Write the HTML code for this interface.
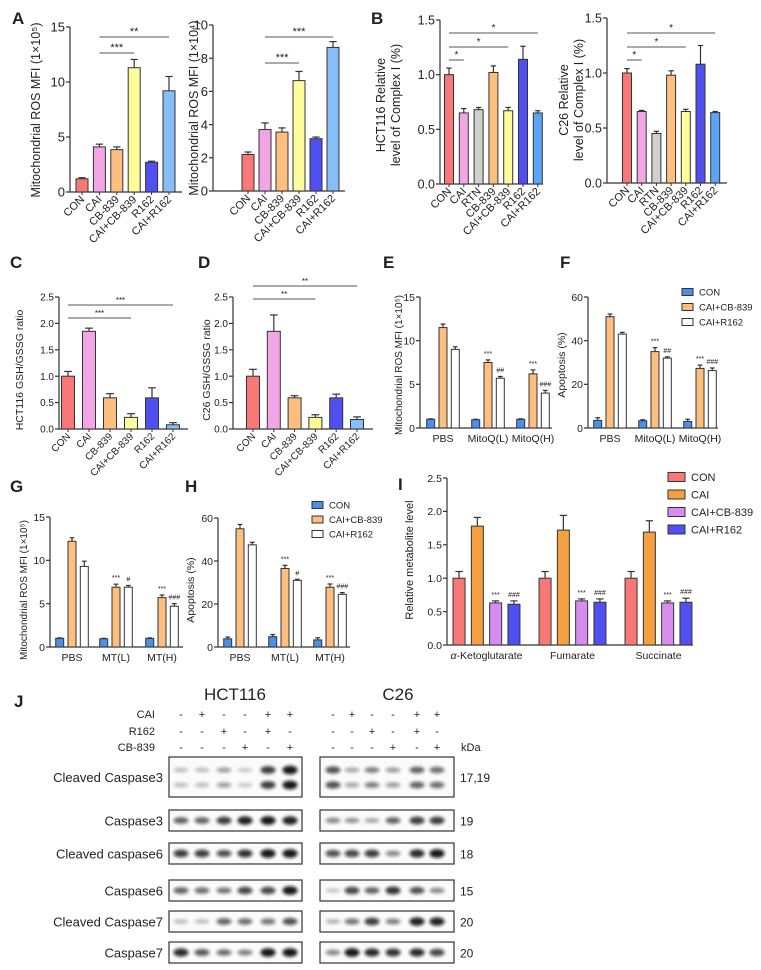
<!DOCTYPE html>
<html><head><meta charset="utf-8"><style>
body{margin:0;background:#fff}
svg text{font-family:"Liberation Sans",Arial,sans-serif;fill:#222}
</style></head><body>
<svg id="fig" width="761" height="965" viewBox="0 0 761 965" xmlns="http://www.w3.org/2000/svg">
<defs><filter id="blur" x="-50%" y="-100%" width="200%" height="300%"><feGaussianBlur stdDeviation="1.5"/></filter></defs>
<g font-weight="bold" font-size="17">
<text x="12" y="24">A</text>
<text x="371" y="24">B</text>
<text x="10" y="268">C</text>
<text x="198" y="268">D</text>
<text x="383" y="268">E</text>
<text x="560" y="268">F</text>
<text x="10" y="492">G</text>
<text x="185" y="492">H</text>
<text x="398" y="490">I</text>
<text x="14" y="707">J</text>
</g>
<g id="charts"></g>
<g id="blots"></g>
</svg>
<script>
// ---- data ----
const catsA = ["CON","CAI","CB-839","CAI+CB-839","R162","CAI+R162"];
const valsA1 = [1.2,4.1,3.85,11.3,2.7,9.2];
const errA1 = [0.1,0.25,0.25,0.75,0.1,1.3];
const valsA2 = [2.2,3.7,3.55,6.65,3.15,8.65];
const errA2 = [0.15,0.4,0.25,0.55,0.1,0.35];
const catsB = ["CON","CAI","RTN","CB-839","CAI+CB-839","R162","CAI+R162"];
const valsB1 = [1.0,0.65,0.68,1.02,0.67,1.14,0.65];
const errB1 = [0.06,0.04,0.02,0.06,0.03,0.12,0.02];
const valsB2 = [1.0,0.65,0.45,0.98,0.65,1.08,0.64];
const errB2 = [0.04,0.01,0.02,0.04,0.02,0.17,0.01];
const valsC = [1.0,1.85,0.59,0.22,0.59,0.08];
const errC = [0.09,0.06,0.08,0.07,0.19,0.04];
const valsD = [1.0,1.85,0.59,0.22,0.59,0.18];
const errD = [0.13,0.31,0.04,0.05,0.07,0.05];
const groupsE = ["PBS","MitoQ(L)","MitoQ(H)"];
const groupsG = ["PBS","MT(L)","MT(H)"];
const seriesEF = ["CON","CAI+CB-839","CAI+R162"];
const valsE = [[1.0,0.95,1.0],[11.5,7.5,6.2],[9.0,5.7,4.0]];
const errE = [[0.05,0.05,0.05],[0.4,0.3,0.45],[0.3,0.2,0.3]];
const valsF = [[3.5,3.3,3.0],[51,35,27.3],[43,32,26.3]];
const errF = [[1.2,0.5,1.0],[1.2,1.8,1.5],[0.8,0.6,1.2]];
const valsG = [[1.0,0.95,1.0],[12.2,6.9,5.7],[9.3,6.9,4.7]];
const errG = [[0.05,0.05,0.05],[0.4,0.35,0.3],[0.6,0.2,0.3]];
const valsH = [[3.8,4.8,3.3],[55,36.5,27.8],[47.5,31,24.5]];
const errH = [[0.8,1.0,1.0],[2.0,1.5,1.5],[1.2,0.5,0.8]];
const groupsI = ["Ketoglutarate","Fumarate","Succinate"];
const seriesI = ["CON","CAI","CAI+CB-839","CAI+R162"];
const valsI = [[1,1,1],[1.78,1.72,1.69],[0.63,0.66,0.63],[0.61,0.64,0.64]];
const errI = [[0.1,0.1,0.1],[0.13,0.22,0.17],[0.03,0.03,0.03],[0.05,0.05,0.06]];
const sigEF = [["","***","***"],["","##","###"]];
const sigG = [["","***","***"],["","#","###"]];
const sigI = [["","",""],["","",""],["***","***","***"],["###","###","###"]];

const NS="http://www.w3.org/2000/svg";
const root=document.getElementById('charts');
function el(tag,attrs,parent){const e=document.createElementNS(NS,tag);for(const k in attrs)e.setAttribute(k,attrs[k]);(parent||root).appendChild(e);return e;}
function txt(s,attrs,parent){const e=el('text',attrs,parent);e.textContent=s;return e;}

function axes(g,c){
  const y=v=>c.y0-v/c.max*(c.y0-c.yTop);
  const ya=el('line',{x1:c.ax,x2:c.ax,y1:c.yTop,y2:c.y0,stroke:'#333','stroke-width':1.2},g);
  
  
  const xa=el('line',{x1:c.ax,x2:c.axEnd,y1:c.y0,y2:c.y0,stroke:'#333','stroke-width':1.2},g);
  
  
  c.ticks.forEach((t,i)=>{
    el('line',{x1:c.ax-4,x2:c.ax,y1:y(t),y2:y(t),stroke:'#333','stroke-width':1.2},g);
    const tl=txt(c.tickLabels[i],{x:c.ax-5,y:y(t)+c.fs*0.36,'text-anchor':'end','font-size':c.fs},g);
    
    
  });
  c.title.forEach((line,i)=>{
    const t=txt(line[0],{x:line[1],y:line[2],'text-anchor':'middle','font-size':c.tfs,transform:`rotate(-90 ${line[1]} ${line[2]})`},g);
    
    
  });
  return y;
}
function bar(g,y,cx,w,v,e,fill,y0,name){
  const r=el('rect',{x:cx-w/2,y:y(v),width:w,height:y0-y(v),fill:fill,stroke:'#333','stroke-width':1},g);
  
  
  el('line',{x1:cx,x2:cx,y1:y(v),y2:y(v+e),stroke:'#333','stroke-width':1.2},g);
  el('line',{x1:cx-w*0.3,x2:cx+w*0.3,y1:y(v+e),y2:y(v+e),stroke:'#333','stroke-width':1.2},g);
}
function simpleChart(c,cats,vals,errs,colors){
  const g=el('g',{});
  
  
  const y=axes(g,c);
  vals.forEach((v,i)=>{
    const cx=c.start+i*c.step;
    bar(g,y,cx,c.bw,v,errs[i],colors[i],c.y0,'bar-'+cats[i].toLowerCase());
    el('line',{x1:cx,x2:cx,y1:c.y0,y2:c.y0+3,stroke:'#333'},g);
    const t=txt(cats[i],{x:cx+3,y:c.y0+8,'text-anchor':'end','font-size':c.xfs,transform:`rotate(-45 ${cx+3} ${c.y0+8})`},g);
    
    
  });
  (c.sig||[]).forEach(s=>{
    const x1=c.start+s[0]*c.step, x2=c.start+s[1]*c.step;
    el('line',{x1:x1,x2:x2,y1:s[2],y2:s[2],stroke:'#555','stroke-width':1},g);
    const t=txt(s[3],{x:(x1+x2)/2,y:s[2]-2,'text-anchor':'middle','font-size':c.sfs||10},g);
    
    
  });
}
function groupChart(c,groups,series,vals,errs,colors,sig){
  const g=el('g',{});
  
  
  const y=axes(g,c);
  const n=series.length;
  groups.forEach((gr,j)=>{
    series.forEach((s,i)=>{
      const cx=c.groups[j]+(i-(n-1)/2)*c.step;
      bar(g,y,cx,c.bw,vals[i][j],errs[i][j],colors[i],c.y0,'bar-'+s.toLowerCase()+'-'+j);
      const lab=sig.length===n?sig[i][j]:(i>0?sig[i-1][j]:'');
      if(lab){const t=txt(lab,{x:cx,y:y(vals[i][j]+errs[i][j])-4,'text-anchor':'middle','font-size':7},g);
        
        }
    });
    const t=txt(gr,{x:c.groups[j],y:c.y0+14,'text-anchor':'middle','font-size':c.xfs},g);
    if(c.alpha&&j===0){t.textContent='';const a=el('tspan',{'font-style':'italic'},t);a.textContent='α';const b=el('tspan',{},t);b.textContent='-'+gr;}
    
    
  });
}
function legend(x,y0,dy,names,colors,w,h,fs,name){
  const g=el('g',{});
  
  
  names.forEach((n,i)=>{
    el('rect',{x:x,y:y0+i*dy-h/2,width:w,height:h,fill:colors[i],stroke:'#333','stroke-width':1},g);
    const t=txt(n,{x:x+w+6,y:y0+i*dy+fs*0.36,'font-size':fs},g);
    
    
  });
}
const colA=['#f87878','#f2a6e6','#fdbf80','#fcfc9a','#5050f0','#88bef8'];
const colB=['#f87878','#f2a6e6','#d0d0d0','#fdbf80','#fcfc9a','#5050f0','#5aa6f5'];
const colEF=['#4a90e8','#fdbf80','#ffffff'];
const colI=['#f87878','#f5a040','#d98cf0','#5050f0'];

simpleChart({name:'chart-a1',ax:70,axEnd:182,y0:192,yTop:27,max:15,ticks:[0,5,10,15],tickLabels:['0','5','10','15'],fs:13,tfs:12.5,
  title:[['Mitochondrial ROS MFI (1×10⁵)',40,110]],start:82,step:17.4,bw:12,xfs:11,sfs:11,
  sig:[[1,5,37,'**'],[1,3,53,'***']]},catsA,valsA1,errA1,colA);
simpleChart({name:'chart-a2',ax:213,axEnd:345,y0:191,yTop:25,max:10,ticks:[0,2,4,6,8,10],tickLabels:['0','2','4','6','8','10'],fs:13,tfs:12.5,
  title:[['Mitochondrial ROS MFI (1×10⁴)',198,108]],start:248,step:17,bw:12,xfs:11,sfs:11,
  sig:[[1,5,37,'***'],[1,3,63,'***']]},catsA,valsA2,errA2,colA);
simpleChart({name:'chart-b1',ax:440,axEnd:543,y0:184,yTop:20,max:1.5,ticks:[0,0.5,1,1.5],tickLabels:['0.0','0.5','1.0','1.5'],fs:12.5,tfs:12.5,
  title:[['HCT116 Relative',385,105],['level of Complex I (%)',400,105]],start:449,step:14.8,bw:9,xfs:11,
  sig:[[0,6,33,'*'],[0,4,47,'*'],[0,1,60,'*']]},catsB,valsB1,errB1,colB);
simpleChart({name:'chart-b2',ax:607,axEnd:727,y0:183,yTop:18,max:1.5,ticks:[0,0.5,1,1.5],tickLabels:['0.0','0.5','1.0','1.5'],fs:12.5,tfs:12.5,
  title:[['C26 Relative',568,100],['level of Complex I (%)',583,100]],start:627,step:14.7,bw:9,xfs:11,
  sig:[[0,6,33,'*'],[0,4,47,'*'],[0,1,60,'*']]},catsB,valsB2,errB2,colB);
simpleChart({name:'chart-c',ax:59,axEnd:188,y0:429,yTop:297,max:2.5,ticks:[0,0.5,1,1.5,2,2.5],tickLabels:['0.0','0.5','1.0','1.5','2.0','2.5'],fs:10,tfs:10.5,
  title:[['HCT116 GSH/GSSG ratio',23,370]],start:68,step:21,bw:13,xfs:10,sfs:8,
  sig:[[0,5,305,'***'],[0,3,318,'***']]},catsA,valsC,errC,colA);
simpleChart({name:'chart-d',ax:233,axEnd:373,y0:429,yTop:297,max:2.5,ticks:[0,0.5,1,1.5,2,2.5],tickLabels:['0.0','0.5','1.0','1.5','2.0','2.5'],fs:10,tfs:10.5,
  title:[['C26 GSH/GSSG ratio',210,370]],start:253,step:20.8,bw:13,xfs:10,sfs:8,
  sig:[[0,5,286,'**'],[0,3,299,'**']]},catsA,valsD,errD,colA);
groupChart({name:'chart-e',ax:420,axEnd:552,y0:428,yTop:297,max:15,ticks:[0,5,10,15],tickLabels:['0','5','10','15'],fs:10.5,tfs:10,
  title:[['Mitochondrial ROS MFI (1×10⁵)',402,365]],groups:[443,488,533],step:12.3,bw:8,xfs:10.5},groupsE,seriesEF,valsE,errE,colEF,sigEF);
groupChart({name:'chart-f',ax:588,axEnd:718,y0:428,yTop:297,max:60,ticks:[0,20,40,60],tickLabels:['0','20','40','60'],fs:10.5,tfs:10.5,
  title:[['Apoptosis (%)',565,365]],groups:[610,655,700],step:12.3,bw:8,xfs:10.5},groupsE,seriesEF,valsF,errF,colEF,sigEF);
legend(682,292,15,seriesEF,colEF,11,7,9.5,'legend-f');
groupChart({name:'chart-g',ax:50,axEnd:183,y0:647,yTop:517,max:15,ticks:[0,5,10,15],tickLabels:['0','5','10','15'],fs:10.5,tfs:10,
  title:[['Mitochondrial ROS MFI (1×10⁵)',27,590]],groups:[72,116,162],step:12.3,bw:8,xfs:10.5},groupsG,seriesEF,valsG,errG,colEF,sigG);
groupChart({name:'chart-h',ax:218,axEnd:350,y0:647,yTop:518,max:60,ticks:[0,20,40,60],tickLabels:['0','20','40','60'],fs:10.5,tfs:10.5,
  title:[['Apoptosis (%)',194,590]],groups:[240,285,330],step:12.3,bw:8,xfs:10.5},groupsG,seriesEF,valsH,errH,colEF,sigG);
legend(312,505,14.5,seriesEF,colEF,11,7,9.5,'legend-h');
groupChart({name:'chart-i',ax:447,axEnd:693,y0:645,yTop:478,max:2.5,ticks:[0,0.5,1,1.5,2,2.5],tickLabels:['0.0','0.5','1.0','1.5','2.0','2.5'],fs:10.5,tfs:11,
  title:[['Relative metabolite level',413,560]],groups:[486.5,572.5,658.5],step:18.3,bw:12,xfs:10.5,alpha:true},groupsI,seriesI,valsI,errI,colI,sigI);
legend(668,477,17.5,seriesI,colI,17,9,11,'legend-i');

// ---- western blots ----
const lanesHCT=[181,202,224,245,268,290];
const lanesC26=[333,352,372,393,417,437];
const treatCAI=['-','+','-','-','+','+'];
const treatR162=['-','-','+','-','+','-'];
const treatCB=['-','-','-','+','-','+'];
const blotNames=['Cleaved Caspase3','Caspase3','Cleaved caspase6','Caspase6','Cleaved Caspase7','Caspase7'];
const blotKDa=['17,19','19','18','15','20','20'];
const blotTop=[757,810,843,880,911,942];
const blotH=[40,21,21,21,21,21];
const bandHCT=[[0.15,0.15,0.3,0.1,0.8,1.0],[0.6,0.6,0.8,0.95,1,0.95],[0.8,0.8,0.7,0.85,1,1],[0.6,0.55,0.5,0.75,0.75,1],[0.15,0.15,0.6,0.55,0.5,0.7],[0.9,0.65,0.55,0.45,1,1]];
const bandC26=[[0.7,0.25,0.45,0.3,0.6,0.55],[0.4,0.35,0.25,0.6,0.8,0.8],[0.7,0.75,0.8,0.4,0.9,1],[0.1,0.75,0.6,0.85,0.7,0.4],[0.2,0.5,0.8,0.45,0.95,0.95],[0.4,1,0.9,0.85,0.9,0.75]];
const bg=document.getElementById('blots');
function bt(s,a){const t=document.createElementNS(NS,'text');for(const k in a)t.setAttribute(k,a[k]);t.textContent=s;bg.appendChild(t);return t;}
let t=bt('HCT116',{x:235,y:700,'text-anchor':'middle','font-size':17});


t=bt('C26',{x:398,y:700,'text-anchor':'middle','font-size':17});


[['CAI',treatCAI,714],['R162',treatR162,731],['CB-839',treatCB,747]].forEach(r=>{
  const lab=bt(r[0],{x:155,y:r[2]+4,'text-anchor':'end','font-size':11});
  
  
  [lanesHCT,lanesC26].forEach(L=>L.forEach((x,i)=>{bt(r[1][i],{x:x,y:r[2]+4,'text-anchor':'middle','font-size':11});}));
});
t=bt('kDa',{x:461,y:751,'font-size':11});


blotNames.forEach((n,r)=>{
  const yc=blotTop[r]+blotH[r]/2;
  const l=bt(n,{x:163,y:yc+5,'text-anchor':'end','font-size':13});
  
  
  const k=bt(blotKDa[r],{x:460,y:yc+5,'font-size':12});
  
  
  [[lanesHCT,bandHCT,169,133],[lanesC26,bandC26,320,134]].forEach(([L,B,bx,bw])=>{
    const box=document.createElementNS(NS,'rect');
    box.setAttribute('x',bx);box.setAttribute('y',blotTop[r]);box.setAttribute('width',bw);box.setAttribute('height',blotH[r]);
    box.setAttribute('fill','#fbfbfb');box.setAttribute('stroke','#333');box.setAttribute('stroke-width','1.2');
    
    
    bg.appendChild(box);
    L.forEach((x,i)=>{
      const v=B[r][i];
      const bandYs=r===0?[yc-7,yc+8]:[yc];
      bandYs.forEach(by=>{
        const e=document.createElementNS(NS,'ellipse');
        e.setAttribute('cx',x);e.setAttribute('cy',by);e.setAttribute('rx',7.5);e.setAttribute('ry',1.8+v*2.6);
        e.setAttribute('fill','#111');e.setAttribute('opacity',0.15+v*0.8);e.setAttribute('filter','url(#blur)');
        
        
        bg.appendChild(e);
      });
    });
  });
});
</script>
</body></html>
